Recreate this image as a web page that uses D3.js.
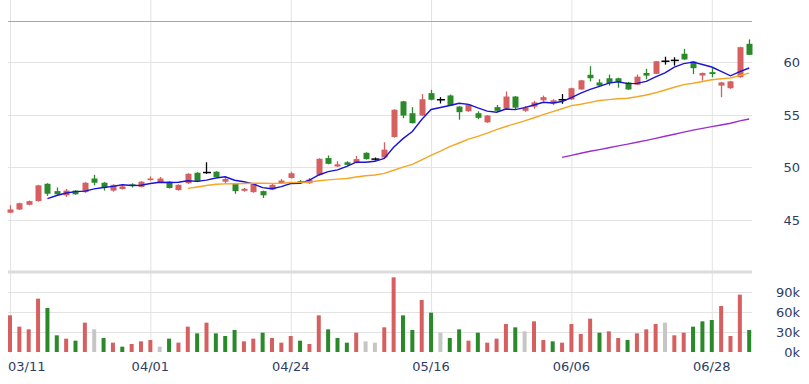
<!DOCTYPE html>
<html><head><meta charset="utf-8">
<script src="https://cdn.jsdelivr.net/npm/d3@7"></script>
<style>body{margin:0;background:#fff}svg{display:block}</style>
</head><body><svg id="c" width="809" height="384"></svg>
<script>
const dates = ["03/11","03/12","03/13","03/14","03/15","03/18","03/19","03/20","03/21","03/22",
"03/25","03/26","03/27","03/28","03/29","04/01","04/02","04/03","04/08","04/09",
"04/10","04/11","04/12","04/15","04/16","04/17","04/18","04/19","04/22","04/23",
"04/24","04/25","04/26","04/29","04/30","05/02","05/03","05/06","05/07","05/08",
"05/09","05/10","05/13","05/14","05/15","05/16","05/17","05/20","05/21","05/22",
"05/23","05/24","05/27","05/28","05/29","05/30","05/31","06/03","06/04","06/05",
"06/06","06/10","06/11","06/12","06/13","06/14","06/17","06/18","06/19","06/20",
"06/21","06/24","06/25","06/26","06/27","06/28","07/01","07/02","07/03","07/04"];
const open = [45.7,46.0,46.45,46.8,48.45,47.75,47.35,47.8,47.65,48.95,
48.55,47.8,47.95,48.4,48.15,48.8,48.6,48.65,47.85,48.5,
49.5,49.52,49.6,48.65,48.45,47.78,47.65,47.75,47.9,48.5,
49.0,48.7,48.5,49.3,50.9,50.1,50.5,50.45,51.4,50.8,
50.95,52.9,56.3,55.17,54.95,57.08,56.45,56.86,55.8,55.36,
55.17,54.3,55.75,55.6,56.76,55.4,55.8,56.4,56.1,56.45,
56.48,57.43,58.83,58.1,58.5,58.5,58.1,57.88,59.0,58.92,
60.12,60.2,60.83,60.1,58.76,59.08,57.8,57.55,58.6,61.78];
const high = [46.4,46.65,46.85,48.35,48.5,48.1,47.95,47.85,48.6,49.3,
48.6,48.4,48.3,48.5,48.7,49.15,49.1,48.7,48.4,49.45,
49.55,50.5,49.65,49.15,48.5,48.05,48.5,47.8,48.5,48.9,
49.6,48.8,49.0,50.88,51.15,50.6,50.6,51.1,51.45,50.95,
52.4,55.55,56.35,55.75,57.0,57.4,56.7,56.95,55.85,56.05,
55.35,55.0,55.95,57.24,56.8,55.85,56.35,56.85,56.5,57.0,
57.6,58.35,59.65,58.4,58.85,58.55,58.15,58.85,59.4,60.15,
60.55,60.5,61.3,60.15,59.05,59.45,58.15,58.25,61.5,62.2];
const low = [45.65,45.95,46.4,46.75,47.3,47.4,47.2,47.4,47.6,48.3,
47.8,47.7,47.9,48.1,48.1,48.75,48.55,48.0,47.8,48.45,
48.6,49.4,49.05,48.45,47.5,47.7,47.6,47.1,47.85,48.45,
48.95,48.45,48.45,49.25,50.3,50.05,50.2,50.4,50.75,50.65,
50.9,52.85,54.7,54.2,54.9,56.4,56.1,55.85,54.55,55.3,
54.6,54.25,55.3,55.55,55.55,55.3,55.6,56.3,55.95,56.07,
56.45,57.4,58.2,57.75,57.8,57.6,57.4,57.85,58.4,58.9,
59.8,59.7,60.25,58.9,58.27,58.6,56.7,57.5,58.55,60.7];
const close = [46.0,46.6,46.8,48.3,47.5,47.45,47.8,47.45,48.55,48.55,
48.1,48.35,48.2,48.25,48.65,48.95,48.95,48.05,48.35,49.4,
48.65,49.52,49.1,48.9,47.75,47.97,48.45,47.35,48.35,48.75,
49.45,48.55,48.85,50.83,50.35,50.3,50.25,50.8,50.8,50.8,
51.7,55.5,54.95,54.22,56.5,56.45,56.45,55.9,55.27,56.0,
54.73,54.95,55.4,56.76,55.7,55.7,56.2,56.7,56.4,56.45,
57.55,58.3,58.5,57.8,58.05,58.15,57.43,58.65,58.75,60.12,
60.12,60.2,60.29,59.46,59.0,58.9,58.1,58.2,61.46,60.73];
const volume = [55,38,34,80,66,25,20,17,44,34,
21,14,8,12,16,18,8,20,14,38,
28,44,28,24,33,16,20,29,21,14,
24,17,12,55,34,21,14,29,16,14,
37,112,55,33,78,59,29,21,34,17,
29,14,20,42,37,31,46,18,16,14,
42,27,50,29,31,21,18,28,34,42,
44,25,29,38,46,48,69,24,86,33];
// daily change direction used for volume colouring: 1 up, -1 down, 0 unchanged
const volTrend = [1,1,1,1,-1,-1,1,-1,1,0,
-1,1,-1,1,1,1,0,-1,1,1,
-1,1,-1,-1,-1,1,1,-1,1,1,
1,-1,1,1,-1,-1,-1,1,0,0,
1,1,-1,-1,1,-1,0,-1,-1,1,
-1,1,1,1,-1,0,1,1,-1,1,
1,1,1,-1,1,1,-1,1,1,1,
0,1,1,-1,-1,-1,1,1,1,-1];
const tickLabels = ["03/11","04/01","04/24","05/16","06/06","06/28"];
const priceTicks = [45,50,55,60];
const volTicks = [0,30,60,90];
const maPeriods = [5,20,60];

const svg = d3.select("#c");
const left = 8, right = 752;
const x = d3.scalePoint().domain(dates).range([10, 749.2]);
const y = d3.scaleLinear().domain([40,64]).range([272.5,20.5]);
const yv = d3.scaleLinear().domain([0,120]).range([352,272]);
const RED="#d65f5f", GREEN="#2a8a2a", GRAY="#c6c6c6", TXT="#2e3d63", GRID="#e3e3e3";

// grids
const g = svg.append("g");
g.selectAll(".vg").data(tickLabels).join("line")
  .attr("x1",d=>x(d)+0.5).attr("x2",d=>x(d)+0.5).attr("y1",0).attr("y2",353)
  .attr("stroke",GRID).attr("stroke-width",1);
g.selectAll(".hg").data(priceTicks).join("line")
  .attr("x1",left).attr("x2",right).attr("y1",d=>Math.round(y(d))+0.5).attr("y2",d=>Math.round(y(d))+0.5)
  .attr("stroke",GRID);
g.selectAll(".vhg").data(volTicks.slice(1)).join("line")
  .attr("x1",left).attr("x2",right).attr("y1",d=>Math.round(yv(d))+0.5).attr("y2",d=>Math.round(yv(d))+0.5)
  .attr("stroke",GRID);
g.append("line").attr("x1",left).attr("x2",right).attr("y1",yv(120)).attr("y2",yv(120))
  .attr("stroke","#dcdcdc").attr("stroke-width",3);
g.append("line").attr("x1",left).attr("x2",right).attr("y1",Math.round(y(64))+0.5).attr("y2",Math.round(y(64))+0.5)
  .attr("stroke","#b3aa78").attr("stroke-width",1.2);

// axes text
svg.append("g").selectAll("text").data(priceTicks).join("text")
  .attr("x",800).attr("y",d=>y(d)).attr("dy","0.36em").attr("text-anchor","end")
  .attr("font-family","DejaVu Sans").attr("font-size",13).attr("fill",TXT).text(d=>d);
svg.append("g").selectAll("text").data(volTicks).join("text")
  .attr("x",800).attr("y",d=>yv(d)).attr("dy","0.36em").attr("text-anchor","end")
  .attr("font-family","DejaVu Sans").attr("font-size",13).attr("fill",TXT).text(d=>d+"k");
svg.append("g").selectAll("text").data(tickLabels).join("text")
  .attr("x",(d,i)=>i===0?left:x(d)).attr("y",371).attr("text-anchor",(d,i)=>i===0?"start":"middle")
  .attr("font-family","DejaVu Sans").attr("font-size",13).attr("fill",TXT).text(d=>d);

// volume
const idx = d3.range(dates.length);
svg.append("g").selectAll("rect").data(idx).join("rect")
  .attr("x",i=>x(dates[i])-2).attr("width",4)
  .attr("y",i=>yv(volume[i])).attr("height",i=>yv(0)-yv(volume[i]))
  .attr("fill",i=>volTrend[i]>0?RED:volTrend[i]<0?GREEN:GRAY);

// candles
const cg = svg.append("g");
const col = i=> close[i]>open[i]?RED:close[i]<open[i]?GREEN:"#000";
cg.selectAll("line.w").data(idx).join("line")
  .attr("x1",i=>Math.round(x(dates[i]))+0.5).attr("x2",i=>Math.round(x(dates[i]))+0.5)
  .attr("y1",i=>y(high[i])).attr("y2",i=>y(low[i])).attr("stroke",col).attr("stroke-width",1.3);
cg.selectAll("rect").data(idx.filter(i=>open[i]!==close[i])).join("rect")
  .attr("x",i=>Math.round(x(dates[i]))-3+0.5).attr("width",6)
  .attr("y",i=>y(Math.max(open[i],close[i])))
  .attr("height",i=>Math.max(1,Math.abs(y(open[i])-y(close[i]))))
  .attr("fill",col);
cg.selectAll("line.d").data(idx.filter(i=>open[i]===close[i])).join("line")
  .attr("x1",i=>x(dates[i])-3.5).attr("x2",i=>x(dates[i])+4.5)
  .attr("y1",i=>y(close[i])).attr("y2",i=>y(close[i])).attr("stroke","#000").attr("stroke-width",1.5);

// moving averages
const maColors = ["#1a12d6","#f5a623","#9a2fd0"];
maPeriods.forEach((p,k)=>{
  const pts = idx.filter(i=>i>=p-1).map(i=>[i, d3.mean(close.slice(i-p+1,i+1))]);
  svg.append("path").datum(pts)
    .attr("d",d3.line().x(d=>x(dates[d[0]])).y(d=>y(d[1])))
    .attr("fill","none").attr("stroke",maColors[k]).attr("stroke-width",1.4);
});
</script></body></html>
